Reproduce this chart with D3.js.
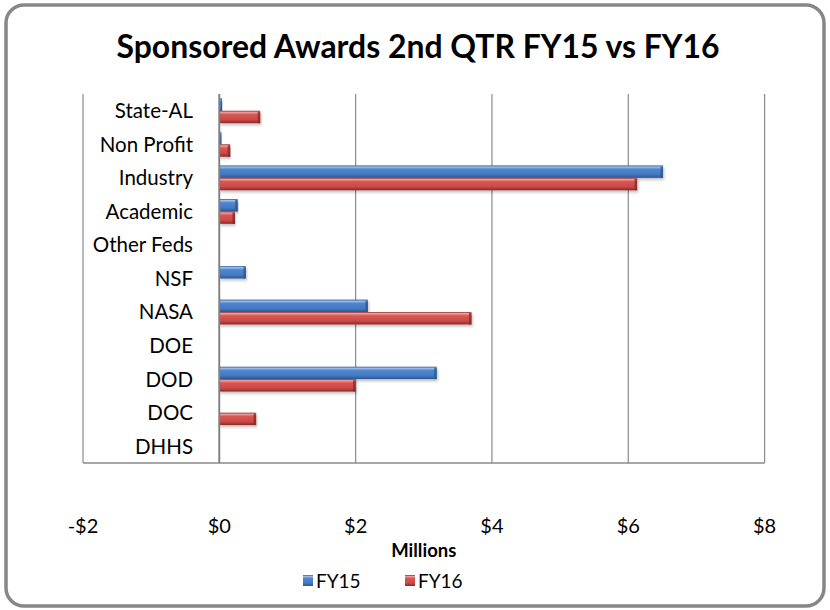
<!DOCTYPE html>
<html><head><meta charset="utf-8">
<script src="https://cdn.jsdelivr.net/npm/d3@7"></script>
<style>body{margin:0;background:#fff}svg{display:block}</style>
</head><body>
<svg id="c" width="830" height="610"></svg>
<script>
const categories = ["State-AL","Non Profit","Industry","Academic","Other Feds","NSF","NASA","DOE","DOD","DOC","DHHS"];
const fy15 = [0.04,0.03,6.51,0.27,0,0.39,2.18,0,3.19,0,0];
const fy16 = [0.60,0.16,6.13,0.23,0,0,3.70,0,2.00,0.54,0];
const seriesNames = ["FY15","FY16"];
const xTicks = [-2,0,2,4,6,8];
const title = "Sponsored Awards 2nd QTR FY15 vs FY16";
const xTitle = "Millions";

const svg = d3.select("#c");
const font = "Lato, 'Open Sans', sans-serif";
const W=830,H=610;
const plot = {l:83, r:764.6, t:94, b:463};

// frame
svg.append("rect").attr("x",6).attr("y",5).attr("width",W-12).attr("height",H-9)
  .attr("rx",18).attr("fill","#fff").attr("stroke","#878787").attr("stroke-width",3.5);

const defs = svg.append("defs");
const cols = [
  {id:"g15", dark:"#2a5690", light:"#9fc0ec", main:"#4f86cf", mid:"#4379c0"},
  {id:"g16", dark:"#8a2826", light:"#f0a2a0", main:"#d95653", mid:"#c94a47"}
];
cols.forEach(c=>{
  const g = defs.append("linearGradient").attr("id",c.id).attr("x1",0).attr("y1",0).attr("x2",0).attr("y2",1);
  g.append("stop").attr("offset","0%").attr("stop-color",c.dark);
  g.append("stop").attr("offset","12%").attr("stop-color",c.light);
  g.append("stop").attr("offset","30%").attr("stop-color",c.main);
  g.append("stop").attr("offset","72%").attr("stop-color",c.mid);
  g.append("stop").attr("offset","100%").attr("stop-color",c.dark);
});
const f = defs.append("filter").attr("id","sh").attr("x","-5%").attr("y","-50%").attr("width","110%").attr("height","220%");
f.append("feDropShadow").attr("dx",1).attr("dy",2).attr("stdDeviation",1.5).attr("flood-color","#000").attr("flood-opacity",0.25);

const x = d3.scaleLinear().domain([-2,8]).range([plot.l,plot.r]);
const y = d3.scaleBand().domain(categories).range([plot.t,plot.b]).paddingInner(0.26).paddingOuter(0.13);
const ys = d3.scaleBand().domain(seriesNames).range([0,y.bandwidth()]);

// gridlines
svg.append("g").selectAll("line").data(xTicks).join("line")
  .attr("x1",d=>x(d)).attr("x2",d=>x(d)).attr("y1",plot.t).attr("y2",plot.b)
  .attr("stroke","#8a8a8a").attr("stroke-width",1.2);
// bottom axis line
svg.append("line").attr("x1",plot.l).attr("x2",plot.r).attr("y1",plot.b).attr("y2",plot.b)
  .attr("stroke","#8a8a8a").attr("stroke-width",1.6);

// category labels
svg.append("g").selectAll("text").data(categories).join("text")
  .attr("x",193).attr("y",d=>y(d)+y.bandwidth()/2).attr("dy","0.36em")
  .attr("text-anchor","end").attr("font-family",font).attr("font-size",20.5).attr("fill","#000")
  .text(d=>d);

// bars
const data = [];
categories.forEach((c,i)=>{ data.push({c,s:"FY15",v:fy15[i],g:"g15",dk:cols[0].dark}); data.push({c,s:"FY16",v:fy16[i],g:"g16",dk:cols[1].dark}); });
const bars = svg.append("g").selectAll("g").data(data.filter(d=>d.v!==0)).join("g").attr("filter","url(#sh)");
bars.append("rect")
  .attr("x",d=>x(Math.min(0,d.v))).attr("y",d=>y(d.c)+ys(d.s))
  .attr("width",d=>Math.abs(x(d.v)-x(0))).attr("height",ys.bandwidth())
  .attr("fill",d=>`url(#${d.g})`);
bars.append("rect")
  .attr("x",d=>x(d.v)-Math.min(2.5,Math.abs(x(d.v)-x(0))/2)).attr("y",d=>y(d.c)+ys(d.s)+1)
  .attr("width",d=>Math.min(2.5,Math.abs(x(d.v)-x(0))/2)).attr("height",ys.bandwidth()-1)
  .attr("fill",d=>d.dk).attr("opacity",0.8);

// zero axis line
svg.append("line").attr("x1",x(0)).attr("x2",x(0)).attr("y1",plot.t).attr("y2",plot.b)
  .attr("stroke","#7f7f7f").attr("stroke-width",1.8);

// x tick labels
svg.append("g").selectAll("text").data(xTicks).join("text")
  .attr("x",d=>x(d)).attr("y",526).attr("dy","0.36em").attr("text-anchor","middle")
  .attr("font-family",font).attr("font-size",20).attr("fill","#000")
  .text(d=> (d<0?"-":"") + "$" + Math.abs(d));

svg.append("text").attr("x",(plot.l+plot.r)/2).attr("y",550).attr("dy","0.36em").attr("text-anchor","middle")
  .attr("font-family",font).attr("font-weight","bold").attr("font-size",18.5).text(xTitle);

// title
const t = svg.append("text").attr("x",418).attr("y",47).attr("dy","0.36em").attr("text-anchor","middle")
  .attr("font-family",font).attr("font-weight","bold").attr("font-size",27).attr("fill","#000").text(title);
const tw = t.node().getComputedTextLength();
t.attr("font-size", 27*603/tw);

// legend
const leg = svg.append("g");
const legItems = [{n:"FY15",g:"g15",x:303},{n:"FY16",g:"g16",x:405}];
legItems.forEach(li=>{
  leg.append("rect").attr("x",li.x).attr("y",575).attr("width",10).attr("height",11).attr("fill",`url(#${li.g})`);
  leg.append("text").attr("x",li.x+13).attr("y",581).attr("dy","0.36em").attr("font-family",font).attr("font-size",19).text(li.n);
});
</script>
</body></html>
